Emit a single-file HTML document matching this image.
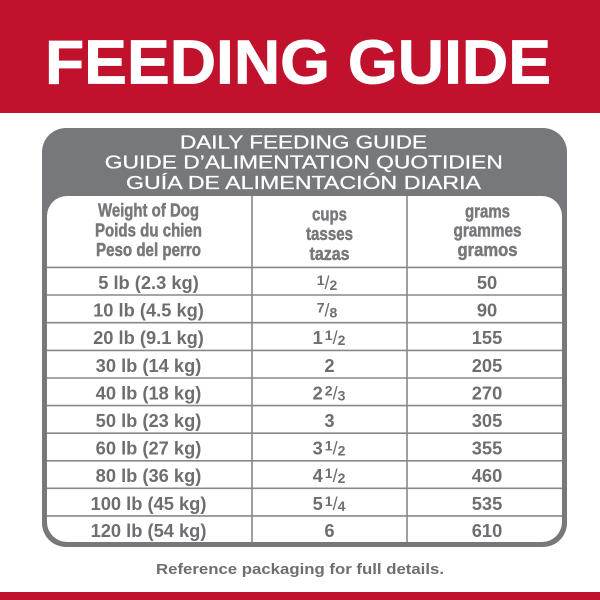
<!DOCTYPE html>
<html>
<head>
<meta charset="utf-8">
<style>
  html,body{margin:0;padding:0;background:#fff;}
  body{width:600px;height:600px;overflow:hidden;}
  svg{display:block;}
  text{font-family:"Liberation Sans", Arial, sans-serif;}
</style>
</head>
<body>
<svg width="600" height="600" viewBox="0 0 600 600" xmlns="http://www.w3.org/2000/svg">
  <!-- top red band -->
  <rect x="0" y="0" width="600" height="113" fill="#c0122c"/>
  <text x="298" y="83.3" text-anchor="middle" font-size="62" font-weight="bold" fill="#ffffff" stroke="#ffffff" stroke-width="0.8" textLength="506" lengthAdjust="spacingAndGlyphs">FEEDING GUIDE</text>

  <!-- gray box -->
  <rect x="42" y="128" width="525" height="419" rx="24" ry="24" fill="#77787b"/>
  <g fill="#ffffff" stroke="#ffffff" stroke-width="0.25" font-size="18" text-anchor="middle">
    <text x="303.5" y="148.3" textLength="247" lengthAdjust="spacingAndGlyphs">DAILY FEEDING GUIDE</text>
    <text x="303.8" y="168.3" textLength="398" lengthAdjust="spacingAndGlyphs">GUIDE D’ALIMENTATION QUOTIDIEN</text>
    <text x="303.5" y="189" textLength="355" lengthAdjust="spacingAndGlyphs">GUÍA DE ALIMENTACIÓN DIARIA</text>
  </g>

  <!-- inner white table -->
  <rect x="47" y="196" width="515" height="346" rx="20" ry="20" fill="#ffffff"/>

  <!-- grid lines -->
  <g stroke="#87888b" stroke-width="1.6">
    <line x1="252" y1="196" x2="252" y2="542"/>
    <line x1="407" y1="196" x2="407" y2="542"/>
    <line x1="47" y1="267.4" x2="562" y2="267.4"/>
    <line x1="47" y1="295" x2="562" y2="295"/>
    <line x1="47" y1="322.7" x2="562" y2="322.7"/>
    <line x1="47" y1="350.4" x2="562" y2="350.4"/>
    <line x1="47" y1="378" x2="562" y2="378"/>
    <line x1="47" y1="405.6" x2="562" y2="405.6"/>
    <line x1="47" y1="433.2" x2="562" y2="433.2"/>
    <line x1="47" y1="460.8" x2="562" y2="460.8"/>
    <line x1="47" y1="488.3" x2="562" y2="488.3"/>
    <line x1="47" y1="515.9" x2="562" y2="515.9"/>
  </g>

  <!-- header texts -->
  <g fill="#77787b" stroke="#77787b" stroke-width="0.5" font-size="18.5" font-weight="bold" text-anchor="middle">
    <text x="148.5" y="216.7" textLength="101" lengthAdjust="spacingAndGlyphs">Weight of Dog</text>
    <text x="148.5" y="236.7" textLength="107" lengthAdjust="spacingAndGlyphs">Poids du chien</text>
    <text x="148.5" y="256" textLength="105" lengthAdjust="spacingAndGlyphs">Peso del perro</text>

    <text x="329.5" y="220.7" textLength="35" lengthAdjust="spacingAndGlyphs">cups</text>
    <text x="329.5" y="240" textLength="47" lengthAdjust="spacingAndGlyphs">tasses</text>
    <text x="329.5" y="260" textLength="40" lengthAdjust="spacingAndGlyphs">tazas</text>

    <text x="487.5" y="217.3" textLength="45" lengthAdjust="spacingAndGlyphs">grams</text>
    <text x="487.5" y="236.7" textLength="68" lengthAdjust="spacingAndGlyphs">grammes</text>
    <text x="487.5" y="256" textLength="60" lengthAdjust="spacingAndGlyphs">gramos</text>
  </g>

  <!-- data rows -->
  <g fill="#6d6e71" font-size="18.3" font-weight="bold" text-anchor="middle">
    <!-- col 1 -->
    <text x="148.5" y="289">5 lb (2.3 kg)</text>
    <text x="148.5" y="316.6">10 lb (4.5 kg)</text>
    <text x="148.5" y="344.2">20 lb (9.1 kg)</text>
    <text x="148.5" y="371.8">30 lb (14 kg)</text>
    <text x="148.5" y="399.4">40 lb (18 kg)</text>
    <text x="148.5" y="427">50 lb (23 kg)</text>
    <text x="148.5" y="454.6">60 lb (27 kg)</text>
    <text x="148.5" y="482.2">80 lb (36 kg)</text>
    <text x="148.5" y="509.8">100 lb (45 kg)</text>
    <text x="148.5" y="537.2">120 lb (54 kg)</text>

    <!-- col 2 -->
    <text x="327" y="289"><tspan font-size="14" dy="-4">1</tspan><tspan font-size="18" font-weight="normal" dy="4">/</tspan><tspan font-size="14" dy="1">2</tspan></text>
    <text x="327" y="316.6"><tspan font-size="14" dy="-4">7</tspan><tspan font-size="18" font-weight="normal" dy="4">/</tspan><tspan font-size="14" dy="1">8</tspan></text>
    <text x="329" y="344.2">1<tspan dx="2" font-size="14" dy="-4">1</tspan><tspan font-size="18" font-weight="normal" dy="4">/</tspan><tspan font-size="14" dy="1">2</tspan></text>
    <text x="329.5" y="371.8">2</text>
    <text x="329" y="399.4">2<tspan dx="2" font-size="14" dy="-4">2</tspan><tspan font-size="18" font-weight="normal" dy="4">/</tspan><tspan font-size="14" dy="1">3</tspan></text>
    <text x="329.5" y="427">3</text>
    <text x="329" y="454.6">3<tspan dx="2" font-size="14" dy="-4">1</tspan><tspan font-size="18" font-weight="normal" dy="4">/</tspan><tspan font-size="14" dy="1">2</tspan></text>
    <text x="329" y="482.2">4<tspan dx="2" font-size="14" dy="-4">1</tspan><tspan font-size="18" font-weight="normal" dy="4">/</tspan><tspan font-size="14" dy="1">2</tspan></text>
    <text x="329" y="509.8">5<tspan dx="2" font-size="14" dy="-4">1</tspan><tspan font-size="18" font-weight="normal" dy="4">/</tspan><tspan font-size="14" dy="1">4</tspan></text>
    <text x="329.5" y="537.2">6</text>

    <!-- col 3 -->
    <text x="487" y="289">50</text>
    <text x="487" y="316.6">90</text>
    <text x="487" y="344.2">155</text>
    <text x="487" y="371.8">205</text>
    <text x="487" y="399.4">270</text>
    <text x="487" y="427">305</text>
    <text x="487" y="454.6">355</text>
    <text x="487" y="482.2">460</text>
    <text x="487" y="509.8">535</text>
    <text x="487" y="537.2">610</text>
  </g>

  <!-- footer -->
  <text x="300" y="574" text-anchor="middle" font-size="15" font-weight="bold" fill="#6d6e71" textLength="288" lengthAdjust="spacingAndGlyphs">Reference packaging for full details.</text>

  <!-- bottom red band -->
  <rect x="0" y="592" width="600" height="8" fill="#c0122c"/>
</svg>
</body>
</html>
